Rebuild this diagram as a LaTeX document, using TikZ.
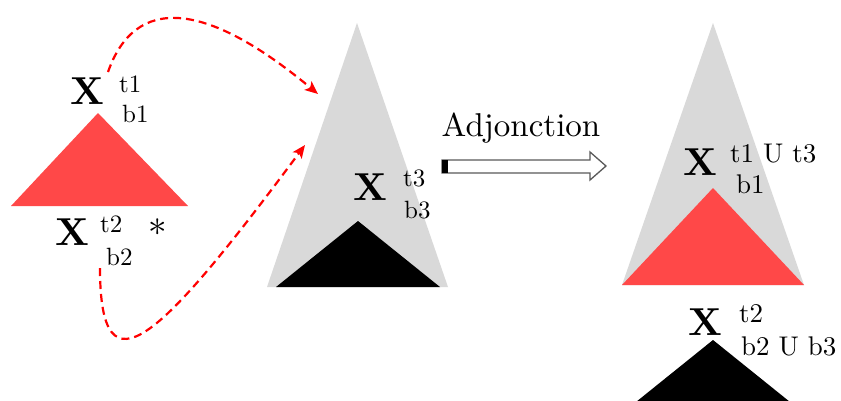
\documentclass[tikz,border=0pt]{standalone}
\usepackage{graphicx}
\usetikzlibrary{arrows.meta}
\definecolor{tred}{HTML}{FF4848}
\definecolor{tgray}{HTML}{D9D9D9}
\newcommand{\myscale}[2]{\scalebox{#1}{#2}}
\begin{document}
\begin{tikzpicture}[x=1pt,y=-1pt,
  bigx/.style={inner sep=0pt, anchor=base},
  lab/.style={inner sep=0pt, anchor=base west},
  link/.style={red, line width=2.2pt, dash pattern=on 8pt off 5pt, -{Stealth[length=13pt,width=11pt,inset=3pt]}},
  blockarrow/.style={line width=1.3pt, draw=black!65, fill=white}]
\useasboundingbox (0,0) rectangle (841,400);
\begin{scope}
\clip (0,0) rectangle (841,400);
% left red tree
\fill[tred] (98,113) -- (188,206) -- (11,206) -- cycle;
% middle tree
\fill[tgray] (357,23) -- (448,287) -- (267,287) -- cycle;
\fill[black] (358,221) -- (440,287) -- (276,287) -- cycle;
% right result
\fill[tgray] (713,23) -- (804,285) -- (622,285) -- cycle;
\fill[tred] (713,188) -- (804,285) -- (622,285) -- cycle;
\fill[black] (713,340) -- (795,406) -- (631,406) -- cycle;
\end{scope}
% labels left
\node[bigx] (x1) at (87,104) {\myscale{3.9}{\bfseries X}};
\node[lab] (t1) at (119,92) {\myscale{2.5}{t1}};
\node[lab] (b1) at (122,122) {\myscale{2.5}{b1}};
\node[bigx] (x2) at (72,245) {\myscale{3.9}{\bfseries X}};
\node[lab] (t2) at (100,232) {\myscale{2.5}{t2}};
\node[lab] (b2) at (106,265) {\myscale{2.5}{b2}};
\node[lab] (st) at (148,246) {\myscale{3.7}{*}};
% labels middle
\node[bigx] (x3) at (370,200) {\myscale{3.9}{\bfseries X}};
\node[lab] (t3) at (403,186) {\myscale{2.5}{t3}};
\node[lab] (b3) at (404,218) {\myscale{2.5}{b3}};
% labels right
\node[bigx] (x4) at (700,175) {\myscale{3.9}{\bfseries X}};
\node[lab] (t13) at (730,162) {\myscale{2.7}{t1 U t3}};
\node[lab] (b1r) at (736,193) {\myscale{2.7}{b1}};
\node[bigx] (x5) at (705,335) {\myscale{3.9}{\bfseries X}};
\node[lab] (t2r) at (739,322) {\myscale{2.7}{t2}};
\node[lab] (b23) at (741,355) {\myscale{2.7}{b2 U b3}};
% adjunction arrow
\node[inner sep=0pt, anchor=base] (adj) at (521,136) {\myscale{3.3}{Adjonction}};
\draw[blockarrow] (442,160) -- (590,160) -- (590,152) -- (606,166) -- (590,180) -- (590,173) -- (442,173) -- cycle;
\fill[black] (442,160) rectangle (448,173);
% dashed links
\coordinate (s1) at (108,72);
\coordinate (e1) at (318,94);
\coordinate (s2) at (100,268);
\coordinate (e2) at (305,145);
\draw[link] (s1) .. controls (135,-5) and (205,0) .. (e1);
\draw[link] (s2) .. controls (100,400) and (160,340) .. (e2);
\end{tikzpicture}
\end{document}
